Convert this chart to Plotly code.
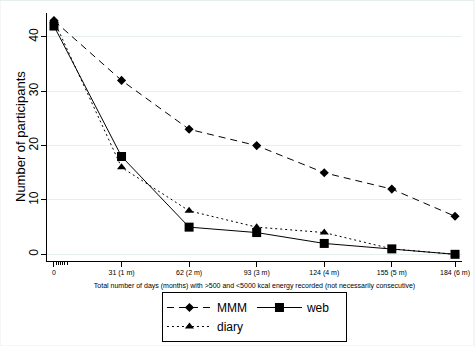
import plotly.graph_objects as go

days = [0, 31, 62, 93, 124, 155, 184]
tick_labels = ["0", "31 (1 m)", "62 (2 m)", "93 (3 m)", "124 (4 m)", "155 (5 m)", "184 (6 m)"]
minor_days = [1, 2, 3, 4, 5, 6]
mmm = [43, 32, 23, 20, 15, 12, 7]
web = [42, 18, 5, 4, 2, 1, 0]
diary = [43, 16, 8, 5, 4, 1, 0]

FONT = "Liberation Sans, Arial, sans-serif"
GRID = "#e6eef0"

fig = go.Figure()
fig.add_trace(go.Scatter(x=days, y=mmm, name="MMM", mode="lines+markers",
                         line=dict(color="black", width=1, dash="7px,5px"),
                         marker=dict(symbol="diamond", size=7, color="black"),
                         legendgroup="a"))
fig.add_trace(go.Scatter(x=days, y=web, name="web", mode="lines+markers",
                         line=dict(color="black", width=1),
                         marker=dict(symbol="square", size=9, color="black"),
                         legendgroup="b", legendwidth=34))
fig.add_trace(go.Scatter(x=days, y=diary, name="diary", mode="lines+markers",
                         line=dict(color="black", width=1, dash="2px,3px"),
                         marker=dict(symbol="triangle-up", size=8, color="black"),
                         legendgroup="a"))

fig.update_layout(
    width=475, height=346,
    margin=dict(l=47, r=13, t=13, b=85, autoexpand=False),
    paper_bgcolor="white", plot_bgcolor="white",
    font=dict(family=FONT, color="black"),
    showlegend=True,
    legend=dict(orientation="h", traceorder="grouped", x=0.277, y=-0.125,
                xanchor="left", yanchor="top", bordercolor="black", borderwidth=1,
                font=dict(size=12, family=FONT), itemwidth=45, tracegroupgap=0,
                bgcolor="white"),
    xaxis=dict(range=[-3.2, 187.2], tickmode="array", tickvals=days, ticktext=tick_labels,
               automargin=False,
               showgrid=False, zeroline=False, showline=True, linecolor="black", linewidth=1,
               ticks="outside", ticklen=5, tickcolor="black", tickfont=dict(size=7),
               minor=dict(tickmode="array", tickvals=minor_days, ticks="outside", ticklen=3,
                          tickcolor="black", showgrid=False),
               title=dict(text="Total number of days (months) with >500 and <5000 kcal energy recorded (not necessarily consecutive)",
                          font=dict(size=7), standoff=6)),
    yaxis=dict(range=[-1.23, 44.4], tickvals=[0, 10, 20, 30, 40], showgrid=True, gridcolor=GRID,
               automargin=False,
               gridwidth=1, zeroline=False, showline=True, linecolor="black", linewidth=1,
               ticks="outside", ticklen=5, tickcolor="black", tickangle=-90,
               ticklabelstandoff=-2,
               tickfont=dict(size=12)),
    annotations=[dict(text="Number of participants", xref="paper", yref="paper",
                      x=-27/415, y=0.5, xanchor="center", yanchor="middle",
                      textangle=-90, showarrow=False, font=dict(size=13, family=FONT))],
    shapes=[dict(type="rect", xref="paper", yref="paper",
                 x0=-47/415, x1=1 + 12/415, y0=-85/248, y1=1 + 12.5/248,
                 line=dict(color=GRID, width=1))],
)

fig.write_html("out.html")
